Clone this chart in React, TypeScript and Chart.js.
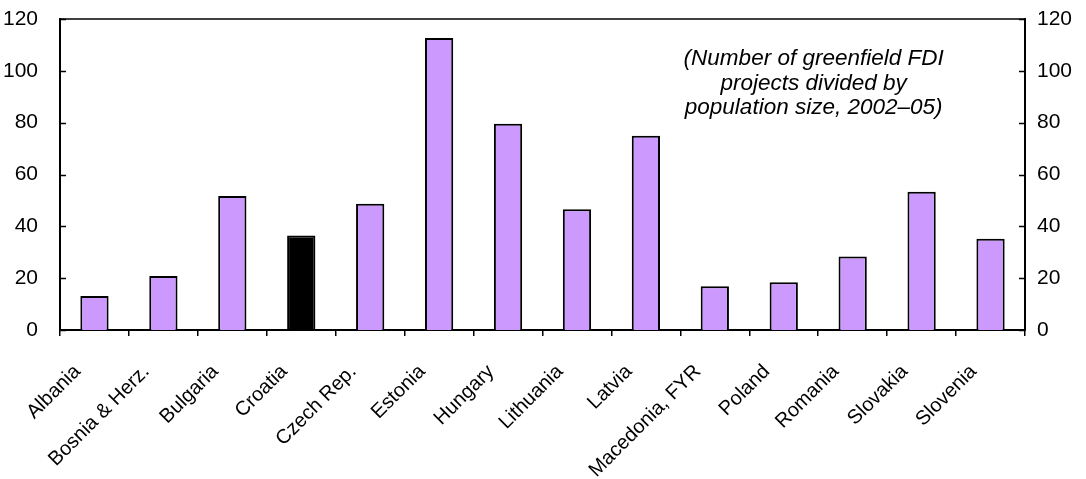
import React, { useEffect, useRef } from "react";
import { Chart, registerables } from "chart.js";

Chart.register(...registerables);

const categories = [
  "Albania",
  "Bosnia & Herz.",
  "Bulgaria",
  "Croatia",
  "Czech Rep.",
  "Estonia",
  "Hungary",
  "Lithuania",
  "Latvia",
  "Macedonia, FYR",
  "Poland",
  "Romania",
  "Slovakia",
  "Slovenia",
];

const values = [13.1, 20.8, 51.7, 36.5, 48.7, 112.7, 79.6, 46.6, 75.0, 16.9, 18.4, 28.4, 53.3, 35.2];

const highlighted = "Croatia";

const yTicks = [0, 20, 40, 60, 80, 100, 120];

const noteLines = [
  "(Number of greenfield FDI",
  "projects divided by",
  "population size, 2002\u201305)",
];

const FONT = "'Liberation Sans', Arial, sans-serif";
const PURPLE = "#CC99FF";

const framePlugin = {
  id: "framePlugin",
  afterDraw(chart: any) {
    const { ctx, chartArea } = chart;
    const yL = chart.scales.y;
    ctx.save();
    ctx.strokeStyle = "#000";
    ctx.lineWidth = 1.5;
    ctx.beginPath();
    ctx.moveTo(chartArea.left, chartArea.top);
    ctx.lineTo(chartArea.right, chartArea.top);
    ctx.stroke();
    ctx.lineWidth = 1.5;
    for (const t of yTicks) {
      const py = Math.round(yL.getPixelForValue(t)) + 0.5;
      ctx.beginPath();
      ctx.moveTo(chartArea.left, py);
      ctx.lineTo(chartArea.left + 6, py);
      ctx.moveTo(chartArea.right, py);
      ctx.lineTo(chartArea.right - 6, py);
      ctx.stroke();
    }
    // note text
    ctx.fillStyle = "#000";
    ctx.font = `italic 22.5px ${FONT}`;
    ctx.textAlign = "center";
    ctx.textBaseline = "alphabetic";
    const cx = chartArea.left + (chartArea.right - chartArea.left) * 0.781;
    const y0 = chartArea.top + 46;
    noteLines.forEach((line, i) => {
      ctx.fillText(line, cx, y0 + i * 24.5);
    });
    ctx.restore();
  },
};

export default function App() {
  const ref = useRef<HTMLCanvasElement | null>(null);

  useEffect(() => {
    if (!ref.current) return;
    const chart = new Chart(ref.current, {
      type: "bar",
      data: {
        labels: categories,
        datasets: [
          {
            data: values,
            backgroundColor: categories.map((c) => (c === highlighted ? "#000000" : PURPLE)),
            borderColor: "#000000",
            borderWidth: 2,
            barPercentage: 0.41,
            categoryPercentage: 1,
            yAxisID: "y",
          },
        ],
      },
      options: {
        animation: false,
        responsive: true,
        maintainAspectRatio: false,
        layout: { padding: { top: 19, left: 0, right: 0, bottom: 0 } },
        plugins: {
          legend: { display: false },
          tooltip: { enabled: false },
          title: { display: false },
        },
        scales: {
          x: {
            offset: true,
            grid: {
              display: true,
              offset: true,
              drawOnChartArea: false,
              drawTicks: true,
              tickLength: 6,
              color: "#000",
              lineWidth: 1.5,
            },
            border: { display: true, color: "#000", width: 2 },
            ticks: {
              color: "#000",
              font: { family: FONT, size: 20 },
              minRotation: 45,
              maxRotation: 45,
              autoSkip: false,
              padding: 24,
              labelOffset: -17,
            },
            afterFit(scale: any) {
              scale.height = 149;
              scale.paddingTop = 0;
              scale.paddingBottom = 0;
            },
          },
          y: {
            position: "left",
            min: 0,
            max: 120,
            grid: { display: false },
            border: { display: true, color: "#000", width: 2 },
            ticks: {
              stepSize: 20,
              color: "#000",
              font: { family: FONT, size: 21 },
              padding: 14,
            },
            afterFit(scale: any) {
              scale.width = 60;
              scale.paddingTop = 0;
              scale.paddingBottom = 0;
            },
          },
          y2: {
            position: "right",
            min: 0,
            max: 120,
            grid: { display: false },
            border: { display: true, color: "#000", width: 2 },
            ticks: {
              stepSize: 20,
              color: "#000",
              font: { family: FONT, size: 21 },
              padding: 4,
            },
            afterFit(scale: any) {
              scale.width = 61;
              scale.paddingTop = 0;
              scale.paddingBottom = 0;
            },
          },
        },
      },
      plugins: [framePlugin],
    });
    return () => chart.destroy();
  }, []);

  return (
    <div style={{ position: "fixed", left: 0, top: 0, width: 1086, height: 479, background: "#fff" }}>
      <canvas ref={ref} />
    </div>
  );
}
